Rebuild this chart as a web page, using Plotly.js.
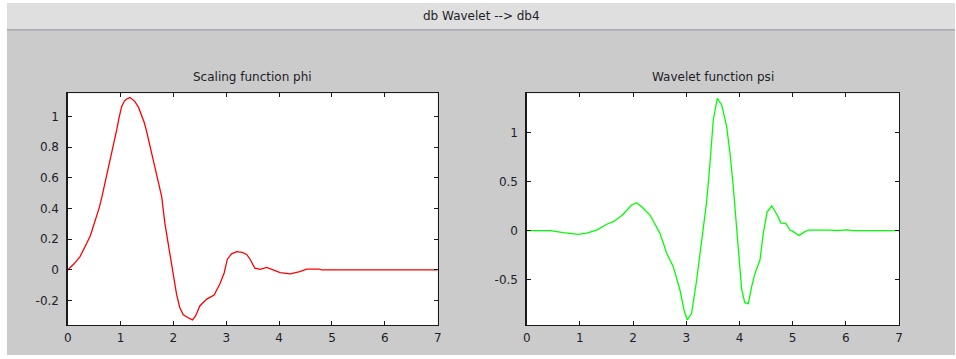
<!DOCTYPE html>
<html>
<head>
<meta charset="utf-8">
<script src="https://cdn.plot.ly/plotly-3.0.1.min.js"></script>
<style>
  html, body { margin: 0; padding: 0; background: #ffffff; }
  #fig { position: absolute; left: 7px; top: 3px; width: 948px; height: 352px; }
</style>
</head>
<body>
<div id="fig"></div>
<script>
// db4 scaling function phi(t), sampled on [0, 7]
const phiX = [0, 0.12, 0.233, 0.30, 0.36, 0.43, 0.485, 0.55, 0.60, 0.643, 0.69, 0.737, 0.78, 0.83, 0.88, 0.927, 0.97, 1.02, 1.07, 1.116, 1.18, 1.273, 1.34, 1.40, 1.45, 1.494, 1.54, 1.589, 1.64, 1.684, 1.73, 1.778, 1.84, 1.90, 1.967, 2.02, 2.06, 2.12, 2.187, 2.27, 2.36, 2.42, 2.50, 2.63, 2.77, 2.88, 2.96, 3.02, 3.10, 3.197, 3.30, 3.386, 3.45, 3.54, 3.64, 3.765, 3.89, 4.02, 4.21, 4.39, 4.52, 4.77, 4.80, 5.5, 6.0, 7.0];
const phiY = [0, 0.04, 0.087, 0.13, 0.174, 0.225, 0.283, 0.35, 0.41, 0.47, 0.54, 0.61, 0.69, 0.76, 0.84, 0.913, 0.99, 1.065, 1.10, 1.115, 1.124, 1.098, 1.06, 1.011, 0.96, 0.902, 0.83, 0.761, 0.685, 0.609, 0.545, 0.478, 0.30, 0.174, 0.022, -0.09, -0.16, -0.245, -0.293, -0.31, -0.326, -0.30, -0.235, -0.19, -0.164, -0.09, -0.02, 0.07, 0.105, 0.12, 0.115, 0.101, 0.07, 0.012, 0.004, 0.017, 0.0, -0.017, -0.026, -0.011, 0.006, 0.006, 0.0, 0.0, 0.0, 0.0];

// db4 wavelet function psi(t), sampled on [0, 7]
const psiX = [0, 0.44, 0.69, 0.97, 1.128, 1.316, 1.504, 1.63, 1.80, 1.973, 2.068, 2.162, 2.318, 2.444, 2.506, 2.632, 2.756, 2.882, 2.957, 3.02, 3.10, 3.196, 3.29, 3.384, 3.446, 3.508, 3.584, 3.666, 3.76, 3.822, 3.884, 3.916, 3.978, 4.042, 4.10, 4.166, 4.23, 4.292, 4.386, 4.448, 4.52, 4.606, 4.71, 4.78, 4.87, 4.95, 5.013, 5.12, 5.232, 5.30, 5.70, 5.83, 6.016, 6.14, 6.5, 7.0];
const psiY = [0, 0, -0.02, -0.037, -0.025, 0.007, 0.066, 0.092, 0.16, 0.262, 0.286, 0.245, 0.16, 0.041, -0.027, -0.23, -0.367, -0.605, -0.809, -0.911, -0.843, -0.503, -0.095, 0.30, 0.688, 1.13, 1.351, 1.283, 1.061, 0.79, 0.449, 0.245, -0.197, -0.60, -0.735, -0.745, -0.571, -0.435, -0.299, -0.027, 0.19, 0.252, 0.16, 0.078, 0.075, 0.007, -0.01, -0.048, -0.01, 0.007, 0.007, 0.0, 0.008, 0.0, 0.0, 0.0];

const xTicks = [0, 1, 2, 3, 4, 5, 6, 7];
const phiTicks = [-0.2, 0, 0.2, 0.4, 0.6, 0.8, 1];
const psiTicks = [-0.5, 0, 0.5, 1];
const phiTickText = ['-0.2', '0', '0.2', '0.4', '0.6', '0.8', '1'];
const psiTickText = ['-0.5', '0', '0.5', '1'];

const figTitle = 'db Wavelet --> db4';
const phiTitle = 'Scaling function phi';
const psiTitle = 'Wavelet function psi';

const W = 948, H = 352;
const fontFam = '"DejaVu Sans", Verdana, sans-serif';
const textCol = '#1e1e28';

function axisBase(domain) {
  return {
    domain: domain,
    showgrid: false, zeroline: false,
    showline: true, linecolor: '#1a1a1a', linewidth: 1.3,
    mirror: 'ticks', ticks: 'inside', ticklen: 4, tickwidth: 1, tickcolor: '#1a1a1a',
    tickfont: { family: fontFam, size: 12, color: textCol },
    fixedrange: true
  };
}

const yDom = [30 / H, (H - 90.3) / H];
const xDomL = [60.7 / W, 430.7 / W];
const xDomR = [519.7 / W, 892 / W];

const traces = [
  { x: phiX, y: phiY, type: 'scatter', mode: 'lines', xaxis: 'x', yaxis: 'y',
    line: { color: '#ff0000', width: 1.3, shape: 'linear' }, hoverinfo: 'skip' },
  { x: psiX, y: psiY, type: 'scatter', mode: 'lines', xaxis: 'x2', yaxis: 'y2',
    line: { color: '#00ff00', width: 1.3, shape: 'linear' }, hoverinfo: 'skip' }
];

const layout = {
  width: W, height: H,
  margin: { l: 0, r: 0, t: 0, b: 0 },
  paper_bgcolor: '#cbcbcb',
  plot_bgcolor: '#ffffff',
  showlegend: false,
  xaxis: Object.assign(axisBase(xDomL), { anchor: 'y', range: [0, 7], tickvals: xTicks, ticktext: xTicks.map(String), ticklabelstandoff: 1 }),
  yaxis: Object.assign(axisBase(yDom), { anchor: 'x', range: [-0.359, 1.152], tickvals: phiTicks, ticktext: phiTickText, ticklabelstandoff: 5 }),
  xaxis2: Object.assign(axisBase(xDomR), { anchor: 'y2', range: [0, 7], tickvals: xTicks, ticktext: xTicks.map(String), ticklabelstandoff: 1 }),
  yaxis2: Object.assign(axisBase(yDom), { anchor: 'x2', range: [-0.962, 1.402], tickvals: psiTicks, ticktext: psiTickText, ticklabelstandoff: 5 }),
  shapes: [
    // header strip
    { type: 'rect', xref: 'paper', yref: 'paper', x0: 0, x1: 1, y0: 1 - 26 / H, y1: 1,
      fillcolor: '#dfdfdf', line: { width: 0 }, layer: 'below' },
    { type: 'line', xref: 'paper', yref: 'paper', x0: 0, x1: 1, y0: 1 - 26.8 / H, y1: 1 - 26.8 / H,
      line: { color: '#a9a9b1', width: 1.5 } }
  ],
  annotations: [
    { text: figTitle, xref: 'paper', yref: 'paper', x: 0.5, y: 1 - 13.5 / H,
      xanchor: 'center', yanchor: 'middle', showarrow: false,
      font: { family: fontFam, size: 12, color: textCol } },
    { text: phiTitle, xref: 'paper', yref: 'paper', x: (xDomL[0] + xDomL[1]) / 2, y: 1 - 73.7 / H,
      xanchor: 'center', yanchor: 'middle', showarrow: false,
      font: { family: fontFam, size: 12, color: textCol } },
    { text: psiTitle, xref: 'paper', yref: 'paper', x: (xDomR[0] + xDomR[1]) / 2, y: 1 - 73.7 / H,
      xanchor: 'center', yanchor: 'middle', showarrow: false,
      font: { family: fontFam, size: 12, color: textCol } }
  ]
};

Plotly.newPlot('fig', traces, layout, { displayModeBar: false, staticPlot: true });
</script>
</body>
</html>
